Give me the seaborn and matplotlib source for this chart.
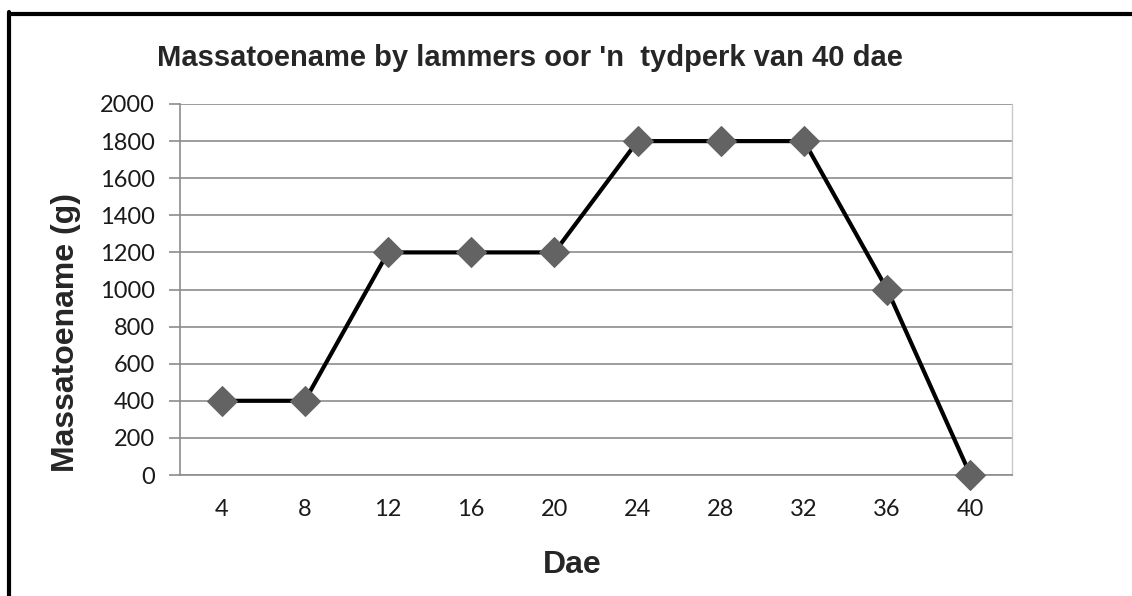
import matplotlib.pyplot as plt
import seaborn as sns
from matplotlib.lines import Line2D

# Data
days = ['4', '8', '12', '16', '20', '24', '28', '32', '36', '40']
mass_gain = [400, 400, 1200, 1200, 1200, 1800, 1800, 1800, 1000, 0]
y_ticks = [0, 200, 400, 600, 800, 1000, 1200, 1400, 1600, 1800, 2000]

sns.set_style('white')
plt.rcParams['font.family'] = ['Liberation Sans', 'DejaVu Sans']

fig = plt.figure(figsize=(11.32, 5.96), dpi=100)
ax = fig.add_axes([180 / 1132, 1 - 475 / 596, (1012 - 180) / 1132, (475 - 104) / 596])

pos = list(range(len(days)))
sns.lineplot(x=pos, y=mass_gain, ax=ax, color='black', linewidth=3,
             marker='D', markersize=15, markerfacecolor='#636363',
             markeredgecolor='#636363', zorder=3, clip_on=False)

ax.set_xlim(-0.5, len(days) - 0.5)
ax.set_ylim(0, 2000)
ax.set_yticks(y_ticks)
ax.set_xticks(pos)
ax.set_xticklabels(days)
ax.yaxis.grid(True, color='#8c8c8c', linewidth=1.2)
ax.xaxis.grid(False)

ax.spines['top'].set_visible(False)
ax.spines['left'].set_color('#8c8c8c')
ax.spines['bottom'].set_color('#8c8c8c')
ax.spines['right'].set_color('#c8c8c8')
ax.spines['left'].set_linewidth(1.2)
ax.spines['bottom'].set_linewidth(1.2)
ax.spines['right'].set_linewidth(1)

ax.tick_params(axis='y', which='major', length=8, width=1.2, color='#8c8c8c',
               left=True, pad=10)
ax.tick_params(axis='x', length=0, pad=17)
for lab in ax.get_xticklabels() + ax.get_yticklabels():
    lab.set_fontfamily('Lato')
    lab.set_fontsize(17)
    lab.set_color('#1a1a1a')

fig.text(530 / 1132, 0.903, "Massatoename by lammers oor 'n  tydperk van 40 dae",
         ha='center', va='center', fontsize=21, fontweight='bold')
fig.text(572 / 1132, 1 - 565 / 596, 'Dae', ha='center', va='center', fontsize=23,
         fontweight='bold')
fig.text(66 / 1132, 1 - 333 / 596, 'Massatoename (g)', ha='center', va='center',
         fontsize=23, fontweight='bold', rotation=90)

# outer frame (top and left edges visible)
fig.add_artist(Line2D([8.5 / 1132, 1], [1 - 13.5 / 596, 1 - 13.5 / 596],
                      transform=fig.transFigure, color='black', linewidth=3))
fig.add_artist(Line2D([8.5 / 1132, 8.5 / 1132], [0, 1 - 12 / 596],
                      transform=fig.transFigure, color='black', linewidth=3))

fig.savefig('out.png', dpi=100)
